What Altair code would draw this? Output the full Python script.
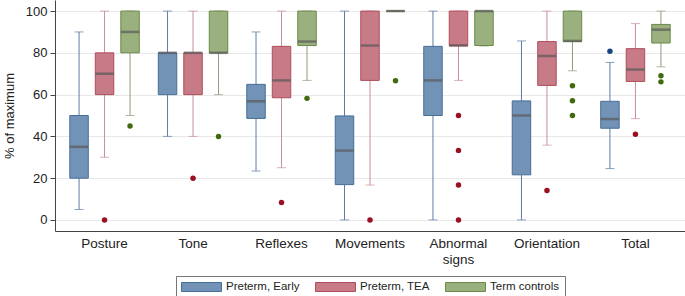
import altair as alt
import pandas as pd

categories = ["Posture", "Tone", "Reflexes", "Movements", "Abnormal signs", "Orientation", "Total"]
groups = ["Preterm, Early", "Preterm, TEA", "Term controls"]

early_low = [5, 40, 23.4, 0, 0, 0, 24.6]
early_q1 = [20, 60, 48.6, 16.9, 50, 21.6, 43.9]
early_med = [35, 80, 56.8, 33.2, 66.8, 50, 48.3]
early_q3 = [50, 80, 64.9, 49.8, 83.1, 57, 56.8]
early_high = [90, 100, 90, 100, 100, 85.7, 75.4]

tea_low = [30, 40, 25, 16.7, 66.8, 35.8, 48.5]
tea_q1 = [60, 60, 58.5, 66.8, 83.3, 64.4, 66.3]
tea_med = [70, 80, 66.8, 83.5, 83.6, 78.5, 72]
tea_q3 = [80, 80, 83.1, 100, 100, 85.4, 82]
tea_high = [100, 100, 100, 100, 100, 100, 94]

term_low = [50, 60, 66.8, 100, 83.3, 71.4, 73.3]
term_q1 = [80, 80, 83.5, 100, 83.5, 85.4, 84.7]
term_med = [90, 80, 85.4, 100, 100, 85.7, 91.1]
term_q3 = [100, 100, 100, 100, 100, 100, 93.6]
term_high = [100, 100, 100, 100, 100, 100, 100]

early_out_cat = ["Total"]
early_out_val = [80.8]
tea_out_cat = ["Posture", "Tone", "Reflexes", "Movements", "Abnormal signs", "Abnormal signs",
               "Abnormal signs", "Abnormal signs", "Orientation", "Total"]
tea_out_val = [0, 20, 8.3, 0, 50, 33.3, 16.7, 0, 14.1, 41]
term_out_cat = ["Posture", "Tone", "Reflexes", "Movements", "Orientation", "Orientation",
                "Orientation", "Total", "Total"]
term_out_val = [45, 40, 58.2, 66.6, 64.2, 57.1, 50, 69, 66.1]

stats = {
    "Preterm, Early": (early_low, early_q1, early_med, early_q3, early_high),
    "Preterm, TEA": (tea_low, tea_q1, tea_med, tea_q3, tea_high),
    "Term controls": (term_low, term_q1, term_med, term_q3, term_high),
}
rows = []
for g in groups:
    lo, q1, md, q3, hi = stats[g]
    for i, c in enumerate(categories):
        rows.append({"cat": c, "grp": g, "lo": lo[i], "q1": q1[i], "med": md[i], "q3": q3[i], "hi": hi[i]})
box_df = pd.DataFrame(rows)

out_rows = []
for g, cats, vals in [("Preterm, Early", early_out_cat, early_out_val),
                      ("Preterm, TEA", tea_out_cat, tea_out_val),
                      ("Term controls", term_out_cat, term_out_val)]:
    for c, v in zip(cats, vals):
        out_rows.append({"cat": c, "grp": g, "val": v})
out_df = pd.DataFrame(out_rows)

FONT = "Liberation Sans"
fill_colors = ["#7293b6", "#c67b86", "#9bb07f"]
stroke_colors = ["#466e9a", "#b04c5c", "#6a8a46"]
whisker_colors = ["#5b7ca6", "#c88f99", "#8c9b7e"]
dot_colors = ["#17467e", "#9a0f22", "#3f6a0e"]

x_enc = alt.X("cat:N", sort=categories,
              scale=alt.Scale(domain=categories, paddingInner=0, paddingOuter=0.06),
              axis=alt.Axis(title=None, ticks=False, labelAngle=0, labelFontSize=13.5,
                            labelFont=FONT, labelColor="#222", labelPadding=5,
                            labelLineHeight=16, domainColor="#444", grid=False,
                            labelExpr="datum.label == 'Abnormal signs' ? ['Abnormal', 'signs'] : datum.label"))
xo_enc = alt.XOffset("grp:N", sort=groups,
                     scale=alt.Scale(domain=groups, paddingInner=0.275, paddingOuter=0.3725))
yscale = alt.Scale(domain=[-5.3, 105.3], nice=False, zero=False)
y_axis = alt.Axis(title="% of maximum", values=[0, 20, 40, 60, 80, 100], grid=True,
                  gridColor="#e8e8e8", tickSize=5, tickColor="#444", domainColor="#444",
                  labelFontSize=13, labelFont=FONT, labelColor="#222", labelPadding=3,
                  titleFont=FONT, titleFontSize=13, titleFontWeight="normal",
                  titleColor="#222", titlePadding=9)

wcol = alt.Color("grp:N", scale=alt.Scale(domain=groups, range=whisker_colors), legend=None)

base = alt.Chart(box_df)

w_lo = base.mark_rule(strokeWidth=1).encode(
    x=x_enc, xOffset=xo_enc, y=alt.Y("lo:Q", scale=yscale, axis=y_axis), y2="q1:Q", color=wcol)
w_hi = base.mark_rule(strokeWidth=1).encode(
    x=x_enc, xOffset=xo_enc, y=alt.Y("q3:Q", scale=yscale, axis=y_axis), y2="hi:Q", color=wcol)
cap_lo = base.mark_tick(size=9, thickness=1).encode(
    x=x_enc, xOffset=xo_enc, y=alt.Y("lo:Q", scale=yscale, axis=y_axis), color=wcol)
cap_hi = base.mark_tick(size=9, thickness=1).encode(
    x=x_enc, xOffset=xo_enc, y=alt.Y("hi:Q", scale=yscale, axis=y_axis), color=wcol)

legend_kw = dict(title=None, orient="none", legendX=121, legendY=276, direction="horizontal",
                 symbolType="M-1,-0.225L1,-0.225L1,0.225L-1,0.225Z", symbolSize=1600,
                 symbolStrokeWidth=1, labelFontSize=11.5, labelFont=FONT, labelColor="#222",
                 labelOffset=4, columnPadding=15, padding=5, strokeColor="#777",
                 fillColor="#ffffff", cornerRadius=0, clipHeight=12)

box = base.mark_bar(strokeWidth=1, opacity=1).encode(
    x=x_enc, xOffset=xo_enc,
    y=alt.Y("q1:Q", scale=yscale, axis=y_axis), y2="q3:Q",
    fill=alt.Fill("grp:N", scale=alt.Scale(domain=groups, range=fill_colors), legend=alt.Legend(**legend_kw)),
    stroke=alt.Stroke("grp:N", scale=alt.Scale(domain=groups, range=stroke_colors), legend=alt.Legend(**legend_kw)),
)
med = base.mark_tick(size=18.5, thickness=2.5, color="#5a5a5a").encode(
    x=x_enc, xOffset=xo_enc, y=alt.Y("med:Q", scale=yscale, axis=y_axis))

dots = alt.Chart(out_df).mark_circle(size=30, opacity=1).encode(
    x=x_enc, xOffset=xo_enc, y=alt.Y("val:Q", scale=yscale, axis=y_axis),
    color=alt.Color("grp:N", scale=alt.Scale(domain=groups, range=dot_colors), legend=None))

chart = alt.layer(w_lo, w_hi, cap_lo, cap_hi, box, med, dots).resolve_scale(
    color="independent"
).properties(
    width=630, height=231,
    padding={"left": 55, "top": 0, "right": 0, "bottom": 65},
    autosize=alt.AutoSizeParams(type="none"),
    background="#ffffff",
).configure_view(stroke="transparent")

chart.save("out.html", embed_options={"renderer": "svg", "actions": False})
